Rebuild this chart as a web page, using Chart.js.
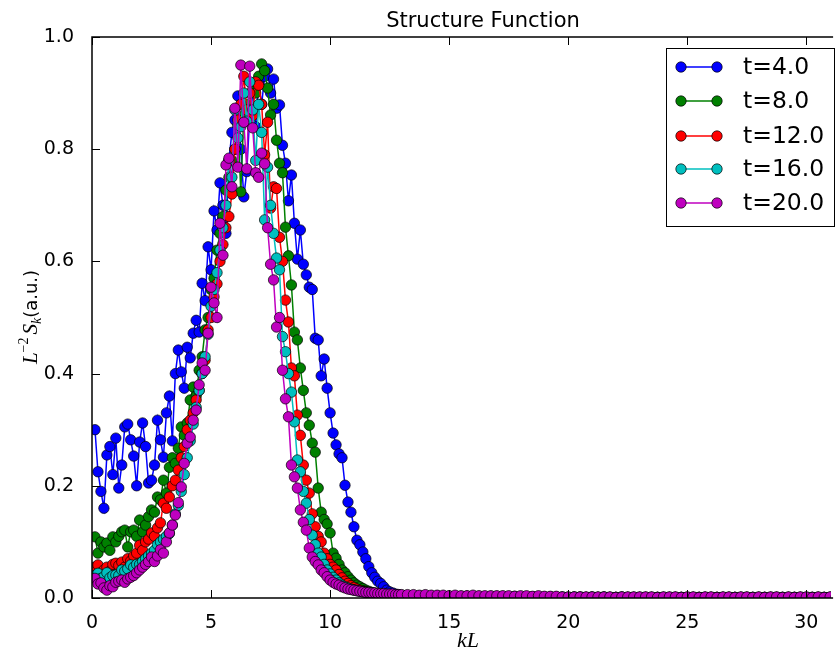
<!DOCTYPE html>
<html><head><meta charset="utf-8">
<script src="https://cdn.jsdelivr.net/npm/chart.js@4.4.1/dist/chart.umd.min.js"></script>
<style>html,body{margin:0;padding:0;background:#fff;}canvas{display:block;}</style>
</head><body>
<canvas id="c" width="837" height="654"></canvas>
<script>
// ---- data ----
const kLMain = [
0.125,0.25,0.375,0.5,0.625,0.75,0.875,1,
1.125,1.25,1.375,1.5,1.625,1.75,1.875,2,
2.125,2.25,2.375,2.5,2.625,2.75,2.875,3,
3.125,3.25,3.375,3.5,3.625,3.75,3.875,4,
4.125,4.25,4.375,4.5,4.625,4.75,4.875,5,
5.125,5.25,5.375,5.5,5.625,5.75,5.875,6,
6.125,6.25,6.375,6.5,6.625,6.75,6.875,7,
7.125,7.25,7.375,7.5,7.625,7.75,7.875,8,
8.125,8.25,8.375,8.5,8.625,8.75,8.875,9,
9.125,9.25,9.375,9.5,9.625,9.75,9.875,10,
10.125,10.25,10.375,10.5,10.625,10.75,10.875,11,
11.125,11.25,11.375,11.5,11.625,11.75,11.875,12,
12.125,12.25,12.375,12.5,12.625,12.75,12.875,13];
const kLTail = [
13.25,13.5,13.75,14,14.25,14.5,14.75,15,15.25,15.5,15.75,16,
16.25,16.5,16.75,17,17.25,17.5,17.75,18,18.25,18.5,18.75,19,
19.25,19.5,19.75,20,20.25,20.5,20.75,21,21.25,21.5,21.75,22,
22.25,22.5,22.75,23,23.25,23.5,23.75,24,24.25,24.5,24.75,25,
25.25,25.5,25.75,26,26.25,26.5,26.75,27,27.25,27.5,27.75,28,
28.25,28.5,28.75,29,29.25,29.5,29.75,30,30.25,30.5,30.75,31,31.25];

const t4Main = [
0.30,0.225,0.19,0.16,0.255,0.27,0.22,0.285,
0.196,0.237,0.305,0.31,0.282,0.253,0.20,0.278,
0.312,0.27,0.205,0.21,0.237,0.317,0.282,0.251,
0.33,0.36,0.28,0.40,0.442,0.403,0.374,0.447,
0.428,0.472,0.495,0.474,0.561,0.53,0.626,0.585,
0.69,0.656,0.74,0.70,0.65,0.78,0.83,0.852,
0.895,0.80,0.715,0.76,0.86,0.90,0.84,0.92,
0.88,0.93,0.943,0.90,0.925,0.873,0.879,0.807,
0.775,0.708,0.754,0.668,0.604,0.656,0.595,0.576,
0.554,0.55,0.463,0.46,0.396,0.426,0.374,0.33,
0.294,0.273,0.257,0.25,0.201,0.171,0.153,0.127,
0.103,0.095,0.082,0.07,0.056,0.045,0.037,0.03,
0.026,0.02,0.014,0.011,0.009,0.007,0.006,0.005];
const t8Main = [
0.109,0.08,0.10,0.091,0.098,0.085,0.109,0.10,
0.11,0.118,0.121,0.091,0.118,0.121,0.11,0.139,
0.118,0.13,0.145,0.157,0.153,0.18,0.175,0.21,
0.187,0.233,0.25,0.24,0.267,0.305,0.29,0.312,
0.353,0.376,0.36,0.406,0.43,0.478,0.50,0.55,
0.57,0.62,0.65,0.68,0.727,0.75,0.78,0.80,
0.843,0.724,0.86,0.88,0.87,0.914,0.90,0.93,
0.952,0.94,0.909,0.861,0.88,0.816,0.775,0.758,
0.661,0.61,0.558,0.474,0.46,0.41,0.37,0.33,
0.308,0.276,0.26,0.196,0.153,0.14,0.132,0.116,
0.08,0.071,0.06,0.05,0.045,0.038,0.032,0.027,
0.023,0.02,0.017,0.014,0.012,0.01,0.009,0.008,
0.007,0.006,0.005,0.005,0.004,0.004,0.004,0.003];
const t12Main = [
0.055,0.059,0.045,0.05,0.055,0.048,0.06,0.062,
0.058,0.064,0.055,0.07,0.066,0.075,0.08,0.094,
0.085,0.10,0.105,0.116,0.11,0.125,0.134,0.169,
0.16,0.18,0.20,0.21,0.228,0.25,0.27,0.30,
0.317,0.33,0.353,0.37,0.40,0.424,0.478,0.50,
0.537,0.56,0.60,0.63,0.66,0.68,0.72,0.80,
0.852,0.88,0.93,0.87,0.90,0.86,0.92,0.914,
0.88,0.79,0.848,0.695,0.733,0.73,0.643,0.60,
0.531,0.492,0.41,0.396,0.326,0.29,0.237,0.21,
0.187,0.15,0.127,0.11,0.10,0.08,0.07,0.06,
0.055,0.05,0.042,0.036,0.03,0.026,0.022,0.019,
0.016,0.014,0.012,0.011,0.01,0.009,0.008,0.007,
0.006,0.006,0.005,0.005,0.004,0.004,0.004,0.003];
const t16Main = [
0.04,0.044,0.035,0.038,0.045,0.036,0.04,0.041,
0.04,0.05,0.048,0.052,0.059,0.055,0.06,0.06,
0.065,0.07,0.075,0.08,0.085,0.095,0.10,0.105,
0.11,0.115,0.13,0.15,0.165,0.19,0.22,0.25,
0.28,0.31,0.34,0.37,0.40,0.43,0.47,0.52,
0.55,0.58,0.62,0.66,0.70,0.78,0.75,0.87,
0.82,0.84,0.90,0.85,0.92,0.87,0.78,0.88,
0.83,0.674,0.768,0.70,0.65,0.606,0.585,0.466,
0.439,0.40,0.367,0.314,0.246,0.225,0.19,0.169,
0.14,0.112,0.095,0.08,0.073,0.06,0.05,0.043,
0.037,0.032,0.027,0.023,0.02,0.018,0.016,0.014,
0.013,0.012,0.011,0.01,0.009,0.008,0.008,0.007,
0.007,0.006,0.006,0.005,0.005,0.004,0.004,0.004];
const t20Main = [
0.035,0.025,0.027,0.018,0.014,0.022,0.02,0.028,
0.03,0.032,0.028,0.034,0.037,0.04,0.045,0.05,
0.055,0.06,0.065,0.073,0.065,0.075,0.086,0.08,
0.10,0.116,0.13,0.148,0.17,0.198,0.24,0.276,
0.287,0.317,0.335,0.38,0.419,0.406,0.472,0.554,
0.526,0.50,0.668,0.611,0.772,0.784,0.733,0.873,
0.768,0.95,0.848,0.765,0.948,0.838,0.758,0.75,
0.793,0.774,0.66,0.595,0.567,0.483,0.50,0.406,
0.355,0.323,0.237,0.216,0.196,0.157,0.135,0.121,
0.089,0.073,0.065,0.059,0.05,0.045,0.038,0.032,
0.028,0.025,0.023,0.02,0.018,0.016,0.015,0.014,
0.013,0.012,0.011,0.01,0.01,0.009,0.009,0.008,
0.008,0.008,0.007,0.007,0.007,0.006,0.006,0.006];

const t4Tail = [
0.004,0.004,0.003,0.003,0.003,0.003,0.002,0.003,0.002,0.002,0.003,0.002,
0.002,0.002,0.002,0.002,0.002,0.002,0.002,0.001,0.002,0.002,0.002,0.001,
0.002,0.001,0.001,0.001,0.001,0.001,0.001,0.001,0.001,0.001,0.001,0.001,
0.001,0.001,0.001,0.001,0.001,0.001,0.001,0.001,0.001,0.001,0.001,0.001,
0.001,0.001,0.001,0.001,0.001,0.001,0.001,0.001,0.001,0.001,0.001,0.001,
0.001,0.001,0.001,0.001,0.001,0.001,0.001,0.001,0.001,0.001,0.001,0.001,0.001];
const t8Tail = [
0.003,0.003,0.003,0.003,0.003,0.002,0.003,0.002,0.002,0.002,0.002,0.002,
0.002,0.002,0.002,0.002,0.002,0.001,0.002,0.002,0.001,0.002,0.001,0.001,
0.001,0.001,0.001,0.001,0.001,0.001,0.001,0.001,0.001,0.001,0.001,0.001,
0.001,0.001,0.001,0.001,0.001,0.001,0.001,0.001,0.001,0.001,0.001,0.001,
0.001,0.001,0.001,0.001,0.001,0.001,0.001,0.001,0.001,0.001,0.001,0.001,
0.001,0.001,0.001,0.001,0.001,0.001,0.001,0.001,0.001,0.001,0.001,0.001,0.001];
const t12Tail = [
0.003,0.003,0.003,0.003,0.003,0.003,0.002,0.003,0.002,0.002,0.003,0.002,
0.002,0.002,0.002,0.002,0.002,0.002,0.001,0.002,0.002,0.001,0.002,0.001,
0.001,0.001,0.001,0.001,0.001,0.001,0.001,0.001,0.001,0.001,0.001,0.001,
0.001,0.001,0.001,0.001,0.001,0.001,0.001,0.001,0.001,0.001,0.001,0.001,
0.001,0.001,0.001,0.001,0.001,0.001,0.001,0.001,0.001,0.001,0.001,0.001,
0.001,0.001,0.001,0.001,0.001,0.001,0.001,0.001,0.001,0.001,0.001,0.001,0.001];
const t16Tail = [
0.004,0.004,0.004,0.004,0.003,0.004,0.003,0.003,0.003,0.003,0.003,0.003,
0.003,0.002,0.003,0.003,0.003,0.002,0.003,0.002,0.002,0.002,0.002,0.002,
0.002,0.002,0.002,0.001,0.002,0.002,0.001,0.002,0.001,0.002,0.001,0.001,
0.002,0.001,0.001,0.001,0.001,0.001,0.001,0.001,0.001,0.001,0.001,0.001,
0.001,0.001,0.001,0.001,0.001,0.001,0.001,0.001,0.001,0.001,0.001,0.001,
0.001,0.001,0.001,0.001,0.001,0.001,0.001,0.001,0.001,0.001,0.001,0.001,0.001];
const t20Tail = [
0.006,0.006,0.005,0.006,0.005,0.005,0.005,0.004,0.005,0.004,0.004,0.005,
0.004,0.004,0.004,0.004,0.004,0.004,0.003,0.004,0.004,0.003,0.004,0.003,
0.003,0.003,0.002,0.002,0.002,0.002,0.002,0.002,0.002,0.002,0.002,0.001,
0.002,0.002,0.002,0.002,0.002,0.002,0.001,0.002,0.002,0.002,0.001,0.002,
0.002,0.001,0.002,0.002,0.001,0.002,0.002,0.001,0.002,0.002,0.001,0.002,
0.001,0.002,0.002,0.001,0.002,0.001,0.002,0.002,0.001,0.002,0.001,0.002,0.002];

const seriesLabels = ['t=4.0','t=8.0','t=12.0','t=16.0','t=20.0'];
const seriesColors = ['#0000ff','#008000','#ff0000','#00bfbf','#bf00bf'];
const xTickValues = [0,5,10,15,20,25,30];
const yTickValues = [0,0.2,0.4,0.6,0.8,1.0];
const titleText = 'Structure Function';

// ---- build ----
const kL = kLMain.concat(kLTail);
const seriesValues = [
  t4Main.concat(t4Tail), t8Main.concat(t8Tail), t12Main.concat(t12Tail),
  t16Main.concat(t16Tail), t20Main.concat(t20Tail)];

const FONT = '"DejaVu Sans", sans-serif';
const datasets = seriesValues.map((vals, i) => ({
  label: seriesLabels[i],
  data: kL.map((x, j) => ({x: x, y: vals[j]})),
  borderColor: seriesColors[i],
  backgroundColor: seriesColors[i],
  borderWidth: 1.5,
  pointRadius: 5.2,
  pointBackgroundColor: seriesColors[i],
  pointBorderColor: '#000',
  pointBorderWidth: 0.7,
  tension: 0,
  order: seriesValues.length - i,
  clip: 0
}));

const decor = {
  id: 'decor',
  afterDraw(chart) {
    const {ctx, chartArea: a, scales: {x, y}} = chart;
    ctx.save();
    // inward ticks
    ctx.strokeStyle = '#000';
    ctx.lineWidth = 1;
    ctx.beginPath();
    xTickValues.forEach(v => {
      const px = Math.round(x.getPixelForValue(v)) + 0.5;
      ctx.moveTo(px, a.bottom); ctx.lineTo(px, a.bottom - 8);
      ctx.moveTo(px, a.top); ctx.lineTo(px, a.top + 8);
    });
    yTickValues.forEach(v => {
      const py = Math.round(y.getPixelForValue(v)) + 0.5;
      ctx.moveTo(a.left, py); ctx.lineTo(a.left + 8, py);
    });
    ctx.stroke();
    // frame
    ctx.lineWidth = 1.5;
    ctx.beginPath();
    ctx.moveTo(a.right + 2, a.top); ctx.lineTo(a.left, a.top);
    ctx.lineTo(a.left, a.bottom); ctx.lineTo(a.right + 2, a.bottom);
    ctx.stroke();

    // title
    ctx.fillStyle = '#000';
    ctx.font = '21px ' + FONT;
    ctx.textAlign = 'center';
    ctx.textBaseline = 'alphabetic';
    ctx.fillText(titleText, 483, 27);

    // x label  kL
    ctx.font = 'italic 22px "Liberation Serif", serif';
    ctx.fillText('kL', 468, 647);

    // y label  L^{-2} S_k (a.u.)
    const parts = [
      {t: 'L', f: 'italic 21px "Liberation Serif", serif', dy: 0},
      {t: '\u22122', f: '14px "Liberation Serif", serif', dy: -9},
      {t: 'S', f: 'italic 21px "Liberation Serif", serif', dy: 0},
      {t: 'k', f: 'italic 14px "Liberation Serif", serif', dy: 4},
      {t: '(a.u.)', f: '18px ' + FONT, dy: 0}
    ];
    let total = 0;
    parts.forEach(p => { ctx.font = p.f; p.w = ctx.measureText(p.t).width; total += p.w; });
    total += 3;
    ctx.save();
    ctx.translate(37, 317);
    ctx.rotate(-Math.PI / 2);
    ctx.textAlign = 'left';
    let cx = -total / 2;
    parts.forEach((p, i) => {
      ctx.font = p.f;
      ctx.fillText(p.t, cx, p.dy);
      cx += p.w + (i === 1 ? 3 : 0);
    });
    ctx.restore();

    // legend
    const lx = 666, ly = 48, lw = 168, lh = 178;
    ctx.fillStyle = '#fff';
    ctx.fillRect(lx, ly, lw, lh);
    ctx.strokeStyle = '#000';
    ctx.lineWidth = 1;
    ctx.strokeRect(lx + 0.5, ly + 0.5, lw, lh);
    const rows = [67, 101, 136, 169, 203];
    seriesLabels.forEach((lab, i) => {
      const ry = rows[i];
      ctx.strokeStyle = seriesColors[i];
      ctx.lineWidth = 1.5;
      ctx.beginPath(); ctx.moveTo(681, ry); ctx.lineTo(717, ry); ctx.stroke();
      [681, 717].forEach(mx => {
        ctx.beginPath();
        ctx.arc(mx, ry, 5.2, 0, Math.PI * 2);
        ctx.fillStyle = seriesColors[i];
        ctx.fill();
        ctx.strokeStyle = '#000';
        ctx.lineWidth = 0.7;
        ctx.stroke();
      });
      ctx.fillStyle = '#000';
      ctx.font = '23.5px ' + FONT;
      ctx.textAlign = 'left';
      ctx.textBaseline = 'middle';
      ctx.fillText(lab, 743, ry + 1);
    });
    ctx.restore();
  }
};

new Chart(document.getElementById('c'), {
  type: 'line',
  data: {datasets: datasets},
  options: {
    responsive: false,
    animation: false,
    devicePixelRatio: 1,
    events: [],
    layout: {padding: {top: 37, left: 0, right: 0, bottom: 0}},
    plugins: {legend: {display: false}, title: {display: false}, tooltip: {enabled: false}},
    scales: {
      x: {
        type: 'linear', min: 0, max: 31.04,
        afterFit(s) { s.height = 56; },
        grid: {display: false},
        border: {display: false},
        ticks: {
          stepSize: 5, includeBounds: false, autoSkip: false, maxRotation: 0,
          padding: 6, color: '#000', font: {family: FONT, size: 19},
          callback: v => xTickValues.includes(v) ? String(v) : ''
        }
      },
      y: {
        type: 'linear', min: 0, max: 1,
        afterFit(s) { s.width = 92; },
        grid: {display: false},
        border: {display: false},
        ticks: {
          stepSize: 0.2, padding: 10, color: '#000', font: {family: FONT, size: 19},
          callback: v => v.toFixed(1)
        }
      }
    }
  },
  plugins: [decor]
});
</script>
</body></html>
